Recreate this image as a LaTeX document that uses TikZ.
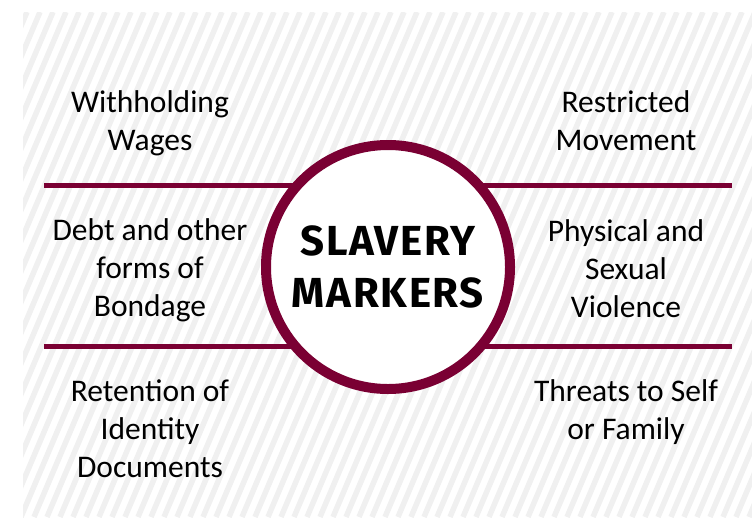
\documentclass[tikz,border=0pt]{standalone}
\usepackage{fontspec}
\usepackage{xcolor}
\usepackage{tikz}
\setmainfont{Carlito}
\newfontfamily\titlefont{Fira Sans}[LetterSpace=4]
\definecolor{wine}{RGB}{122,0,51}
\def\markerfont{\fontsize{31.5}{38}\selectfont}
\def\hubfont{\titlefont\bfseries\fontsize{42}{52}\selectfont}

\begin{document}
\begin{tikzpicture}[x=1pt,y=-1pt]
    \tikzstyle{stripe}=[black!6,line width=5.5pt]
    \tikzstyle{bar}=[wine,line width=5pt]
    \tikzstyle{markertext}=[align=center,anchor=base,inner sep=0pt,font=\markerfont]
    \useasboundingbox (0,0) rectangle (752,517);
    \begin{scope}
      \clip (23,12) rectangle (752,517);
      \foreach \x in {-200,-187,...,760}
        \draw[stripe] (\x,517) -- ++(214,-505);
    \end{scope}
    \coordinate (c) at (388,267);
    \coordinate (nw) at (44,185);
    \coordinate (ne) at (732,185);
    \coordinate (sw) at (44,346);
    \coordinate (se) at (732,346);
    \draw[bar] (nw) -- (ne);
    \draw[bar] (sw) -- (se);
    \node[circle,draw=wine,line width=10pt,fill=white,minimum size=244pt,
      inner sep=0pt,align=center,font=\hubfont] (hub) at (c) {SLAVERY\\MARKERS};
    \node[markertext] (wages) at (150,150) {Withholding\\Wages};
    \node[markertext] (debt) at (150,316) {Debt and other\\forms of\\Bondage};
    \node[markertext] (papers) at (150,477) {Retention of\\Identity\\Documents};
    \node[markertext] (movement) at (626,150) {Restricted\\Movement};
    \node[markertext] (violence) at (626,317) {Physical and\\Sexual\\Violence};
    \node[markertext] (threats) at (626,439) {Threats to Self\\or Family};
\end{tikzpicture}
\end{document}
